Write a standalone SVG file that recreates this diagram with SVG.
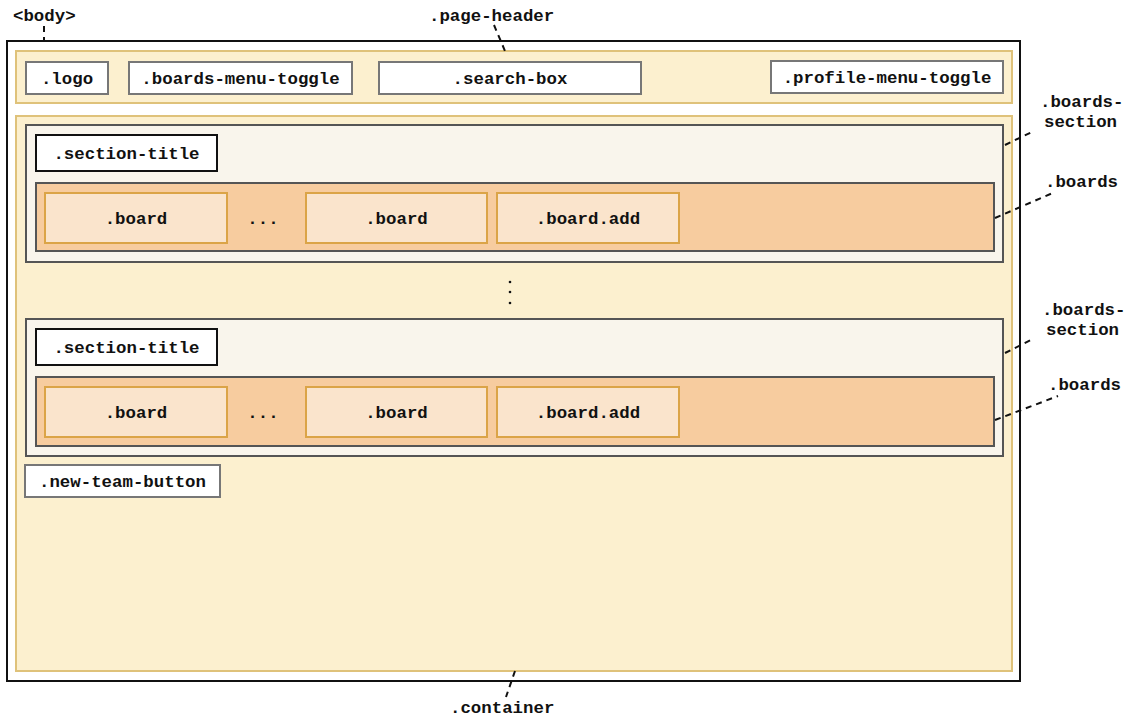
<svg xmlns="http://www.w3.org/2000/svg" width="1134" height="719" viewBox="0 0 1134 719">
<style>
text{font-family:"Liberation Mono","Courier New",monospace;font-weight:bold;font-size:17.4px;fill:#111}
.c{text-anchor:middle}
.body{fill:#fff;stroke:#111;stroke-width:2}
.gold{fill:#fcf0cf;stroke:#dfc27a;stroke-width:2}
.wbox{fill:#fff;stroke:#777;stroke-width:2}
.title{fill:#fff;stroke:#111;stroke-width:2}
.sect{fill:#f9f5ec;stroke:#555;stroke-width:2}
.boards{fill:#f7cc9f;stroke:#555;stroke-width:2}
.board{fill:#fae4cc;stroke:#dba447;stroke-width:2}
.lead{fill:none;stroke:#111;stroke-width:2;stroke-dasharray:6 5}
</style>
<g id="body"><rect class="body" x="7" y="41" width="1013" height="640"/></g>
<g id="page-header">
<rect class="gold" x="16" y="51" width="996" height="52"/>
</g>
<g id="logo"><rect class="wbox" x="26" y="62" width="82" height="32"/><text class="c" x="67" y="84">.logo</text></g>
<g id="boards-menu-toggle"><rect class="wbox" x="129" y="62" width="223" height="32"/><text class="c" x="240.5" y="84">.boards-menu-toggle</text></g>
<g id="search-box"><rect class="wbox" x="379" y="62" width="262" height="32"/><text class="c" x="510" y="84">.search-box</text></g>
<g id="profile-menu-toggle"><rect class="wbox" x="771" y="61" width="232" height="32"/><text class="c" x="887" y="83">.profile-menu-toggle</text></g>
<g id="container"><rect class="gold" x="16" y="116" width="996" height="555"/></g>
<g id="section1">
<rect class="sect" x="26" y="125" width="977" height="137"/>
<rect class="title" x="36" y="135" width="181" height="36"/><text class="c" x="126.5" y="159">.section-title</text>
<rect class="boards" x="36" y="183" width="958" height="68"/>
<rect class="board" x="45" y="193" width="182" height="50"/><text class="c" x="136" y="224">.board</text>
<text class="c" x="263" y="224">...</text>
<rect class="board" x="306" y="193" width="181" height="50"/><text class="c" x="396.5" y="224">.board</text>
<rect class="board" x="497" y="193" width="182" height="50"/><text class="c" x="588" y="224">.board.add</text>
</g>
<g id="vdots" fill="#111"><circle cx="510" cy="282" r="1.3"/><circle cx="510" cy="292" r="1.3"/><circle cx="510" cy="303" r="1.3"/></g>
<g id="section2">
<rect class="sect" x="26" y="319" width="977" height="137"/>
<rect class="title" x="36" y="329" width="181" height="36"/><text class="c" x="126.5" y="353">.section-title</text>
<rect class="boards" x="36" y="377" width="958" height="69"/>
<rect class="board" x="45" y="387" width="182" height="50"/><text class="c" x="136" y="418">.board</text>
<text class="c" x="263" y="418">...</text>
<rect class="board" x="306" y="387" width="181" height="50"/><text class="c" x="396.5" y="418">.board</text>
<rect class="board" x="497" y="387" width="182" height="50"/><text class="c" x="588" y="418">.board.add</text>
</g>
<g id="new-team-button"><rect class="wbox" x="25" y="465" width="195" height="32"/><text class="c" x="122.5" y="487">.new-team-button</text></g>
<g id="labels">
<text x="13" y="21">&lt;body&gt;</text>
<text x="429" y="21">.page-header</text>
<text x="1040" y="107">.boards-</text>
<text x="1044" y="127">section</text>
<text x="1045" y="187">.boards</text>
<text x="1042" y="315">.boards-</text>
<text x="1046" y="335">section</text>
<text x="1048" y="390">.boards</text>
<text x="450" y="713">.container</text>
</g>
<g id="connectors">
<path class="lead" d="M44 26V41"/>
<path class="lead" d="M494 25L505 51"/>
<path class="lead" d="M1005 145L1034 131"/>
<path class="lead" d="M995 218L1055 192"/>
<path class="lead" d="M1005 353L1031 340"/>
<path class="lead" d="M995 420L1058 396"/>
<path class="lead" d="M515 671L506 697"/>
</g>
</svg>
